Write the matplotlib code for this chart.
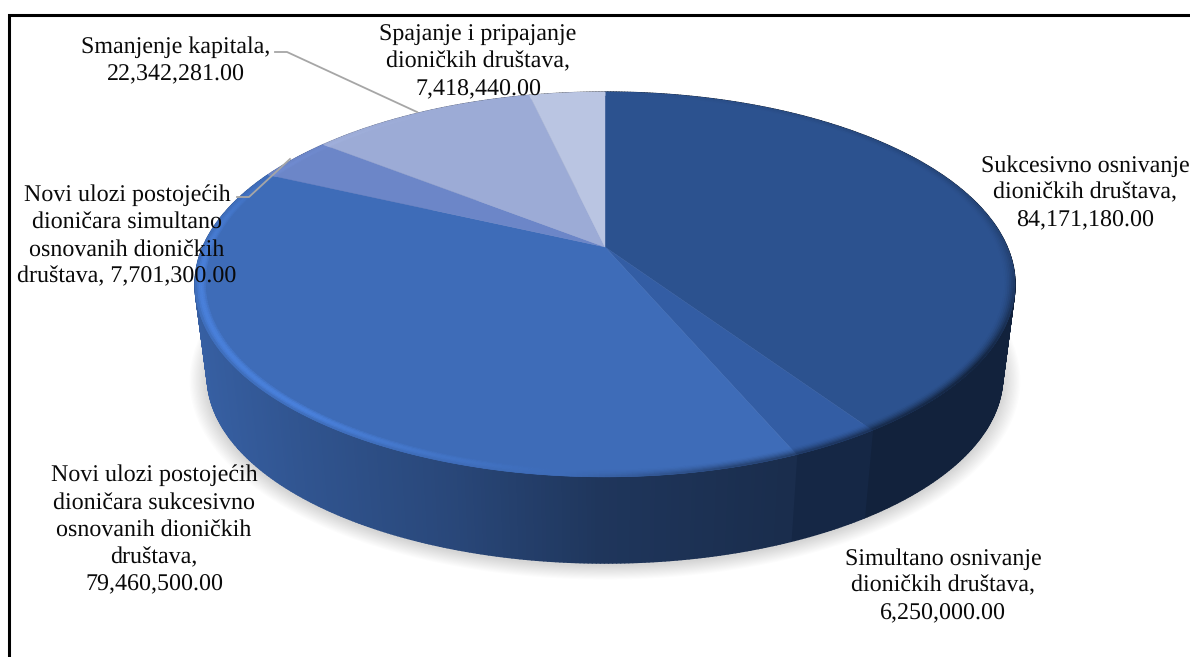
import numpy as np
import matplotlib
matplotlib.use("Agg")
import matplotlib.pyplot as plt
from matplotlib.collections import PolyCollection

plt.rcParams['font.family'] = ['Liberation Serif', 'DejaVu Serif']
plt.rcParams['text.hinting'] = 'no_hinting'
plt.rcParams['text.hinting_factor'] = 1

# data, clockwise from 12 o'clock
categories = ["Sukcesivno osnivanje\ndioničkih društava",
              "Simultano osnivanje\ndioničkih društava",
              "Novi ulozi postojećih\ndioničara sukcesivno\nosnovanih dioničkih\ndruštava",
              "Novi ulozi postojećih\ndioničara simultano\nosnovanih dioničkih\ndruštava",
              "Smanjenje kapitala",
              "Spajanje i pripajanje\ndioničkih društava"]
values = [84171180.00, 6250000.00, 79460500.00, 7701300.00, 22342281.00, 7418440.00]
separators = [",\n", ",\n", ",\n", ", ", ",\n", ",\n"]
colors = ["#2C528F", "#335DA4", "#3E6CB8", "#6C86C8", "#9CABD6", "#BAC5E2"]

label_x = [1085, 943, 154, 127, 176, 478]
label_y = [193, 586, 530, 236, 61, 62]

# projection of the pie disc onto the picture (pixels)
cx, cy = 605, 247
sx, sy, k = 402, 185, 0.195
depth, bottom_scale = 93, 0.97


def project(theta, r=1.0, bottom=False):
    u = r * np.sin(theta)
    v = r * np.cos(theta)
    w = 1 + k * v
    x = sx * u / w
    y = -sy * v / w
    if bottom:
        return cx + bottom_scale * x, cy + depth + bottom_scale * y
    return cx + x, cy + y


def rgb(c):
    return np.array(matplotlib.colors.to_rgb(c))


frac = np.array(values) / sum(values)
edges = np.concatenate([[0], np.cumsum(frac)]) * 2 * np.pi

fig = plt.figure(figsize=(11.9, 6.57), dpi=100)
ax = fig.add_axes([0, 0, 1, 1])
ax.set_xlim(0, 1190)
ax.set_ylim(657, 0)
ax.axis('off')

# soft shadow under the pie
t = np.linspace(0, 2 * np.pi, 361)
bx, by = project(t, bottom=True)
for i in range(14):
    g = 1 + (14 - i) * 0.0032
    ax.fill(cx + (bx - cx) * g, cy + depth + 2 + (by - cy - depth) * (g + (14 - i) * 0.0015),
            color='black', alpha=0.012, lw=0, zorder=1)

# side wall, darker to the right
side_x = [200, 300, 450, 600, 780, 1015]
side_f = [0.88, 0.78, 0.66, 0.50, 0.42, 0.42]
quads = []
qcol = []
for i in range(len(values)):
    a = np.linspace(edges[i], edges[i + 1], max(int((edges[i + 1] - edges[i]) * 120), 2))
    for a0, a1 in zip(a[:-1], a[1:]):
        x0, y0 = project(a0)
        x1, y1 = project(a1)
        x2, y2 = project(a1, bottom=True)
        x3, y3 = project(a0, bottom=True)
        quads.append([(x0, y0), (x1, y1), (x2, y2), (x3, y3)])
        qcol.append(rgb(colors[i]) * np.interp((x0 + x1) / 2, side_x, side_f))
# back to front so the near wall stays on top
order = np.argsort([np.mean([p[1] for p in q]) for q in quads])
ax.add_collection(PolyCollection([quads[j] for j in order], facecolors=[qcol[j] for j in order],
                                 edgecolors=[qcol[j] for j in order], linewidths=1.2, zorder=2))

# flat top of the pie
for i in range(len(values)):
    a = np.linspace(edges[i], edges[i + 1], 200)
    px, py = project(a)
    ax.fill(np.r_[cx, px], np.r_[cy, py], color=colors[i], lw=0.3, zorder=3)

# bevel round the rim: bright on the lower left, dark on the lower right
ang_deg = [0, 95, 125, 165, 185, 220, 265, 292, 330, 360]
bright = [0, -0.25, -0.7, -0.45, 0.0, 0.20, 0.19, 0.05, 0, 0]
rings = np.linspace(0.972, 1.0, 8)
rquads = []
rcol = []
for i in range(len(values)):
    a = np.linspace(edges[i], edges[i + 1], max(int((edges[i + 1] - edges[i]) * 90), 3))
    for a0, a1 in zip(a[:-1], a[1:]):
        b = np.interp(np.degrees((a0 + a1) / 2), ang_deg, bright)
        for r0, r1 in zip(rings[:-1], rings[1:]):
            p = (r0 - rings[0]) / (rings[-1] - rings[0])
            x0, y0 = project(a0, r0)
            x1, y1 = project(a1, r0)
            x2, y2 = project(a1, r1)
            x3, y3 = project(a0, r1)
            base = rgb(colors[i])
            if b >= 0:
                c = base * (1 + b * np.sin(np.pi * min(p * 1.1, 1)))
            else:
                c = base * (1 + b * p ** 1.6)
            c = np.clip(c, 0, 1)
            rquads.append([(x0, y0), (x1, y1), (x2, y2), (x3, y3)])
            rcol.append(c)
ax.add_collection(PolyCollection(rquads, facecolors=rcol, edgecolors=rcol, linewidths=0.5, zorder=4))

# leader lines
ax.plot([275, 287, 417], [52, 52, 112], color='#A6A6A6', lw=1.3, zorder=5)
ax.plot([237, 249, 290], [197, 197, 159], color='#A6A6A6', lw=1.3, zorder=5)

# data labels
for i in range(len(values)):
    txt = categories[i] + separators[i] + f"{values[i]:,.2f}"
    ax.text(label_x[i], label_y[i], txt, ha='center', va='center', fontsize=17.4,
            linespacing=1.33, color='#0a0a0a', zorder=6)

# frame, only top and left show
ax.plot([9, 9, 1190], [657, 15, 15], color='black', lw=2.2, solid_joinstyle='miter', zorder=7)

fig.savefig('out.png', dpi=100)
